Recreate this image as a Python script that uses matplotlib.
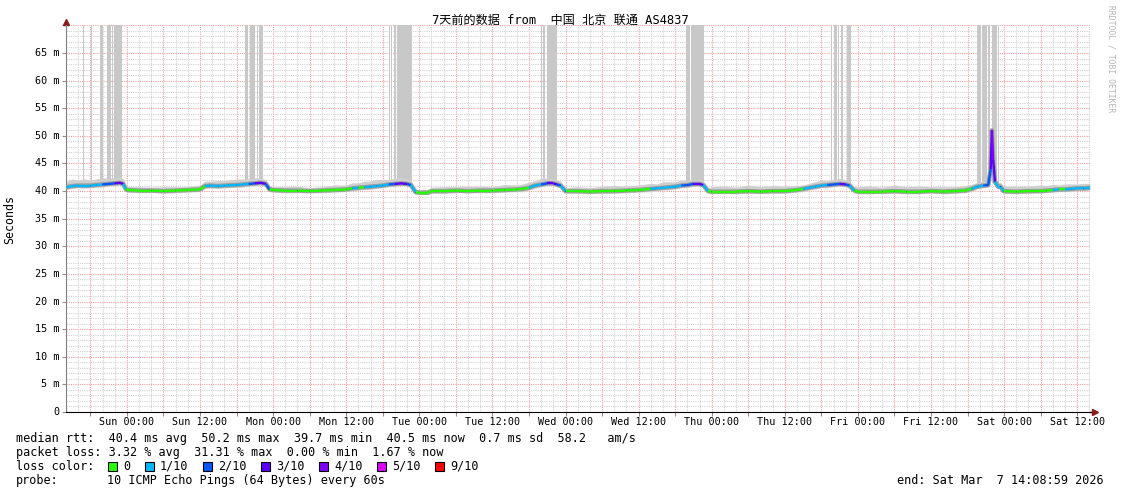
import matplotlib
matplotlib.use("Agg")
import matplotlib.pyplot as plt
import numpy as np
from matplotlib.collections import LineCollection
from matplotlib.patches import Rectangle
from matplotlib.ticker import MultipleLocator, NullFormatter

W, H = 1121, 494
MONO = ["DejaVu Sans Mono", "Noto Sans CJK SC"]

# time is in hours relative to Sun 00:00
title = "7天前的数据 from  中国 北京 联通 AS4837"

# median rtt (ms), loss class, smoke above / below median, per day
sat0_h = [-10, -9, -8, -7, -6, -5, -4, -3, -2, -1.2, -0.6, -0.2]
sat0_med = [40.7, 40.9, 41.0, 41.0, 41.0, 41.1, 41.2, 41.3, 41.4, 41.5, 41.3, 40.4]
sat0_loss = [1, 1, 1, 1, 1, 1, 2, 2, 3, 3, 1, 0]
sat0_up = [1.0, 1.3, 1.0, 1.2, 1.0, 1.1, 1.2, 1.0, 1.1, 1.0, 0.9, 0.8]
sat0_dn = [0.5, 0.4, 0.4, 0.5, 0.4, 0.4, 0.5, 0.4, 0.4, 0.4, 0.5, 0.4]

sun_h = [0, 2, 4, 6, 8, 10, 12, 12.8, 13.6, 15, 16, 18, 19, 20, 21, 22, 22.8, 23.4]
sun_med = [40.2, 40.1, 40.1, 40.0, 40.1, 40.2, 40.3, 40.9, 41.0, 40.9, 41.0, 41.1, 41.2, 41.3, 41.4, 41.5, 41.3, 40.3]
sun_loss = [0, 0, 0, 0, 0, 0, 0, 1, 1, 1, 1, 1, 1, 2, 3, 3, 2, 0]
sun_up = [0.6, 0.7, 0.6, 0.8, 0.7, 0.6, 0.8, 0.9, 0.8, 1.0, 0.9, 1.1, 1.0, 0.9, 1.0, 0.8, 0.8, 0.7]
sun_dn = [0.4, 0.4, 0.3, 0.4, 0.4, 0.4, 0.4, 0.4, 0.5, 0.4, 0.4, 0.4, 0.5, 0.4, 0.4, 0.4, 0.5, 0.4]

mon_h = [24, 26, 28, 30, 32, 34, 36, 37, 38, 39, 40, 41, 42, 43, 44, 45, 46, 46.6, 47.4]
mon_med = [40.2, 40.1, 40.1, 40.0, 40.1, 40.2, 40.3, 40.5, 40.6, 40.7, 40.8, 40.9, 41.0, 41.2, 41.3, 41.4, 41.3, 41.1, 39.8]
mon_loss = [0, 0, 0, 0, 0, 0, 0, 1, 0, 1, 1, 1, 1, 2, 3, 3, 2, 1, 0]
mon_up = [0.6, 0.7, 0.8, 0.6, 0.7, 0.9, 0.8, 1.0, 0.9, 1.1, 1.0, 1.2, 1.1, 0.9, 1.0, 1.1, 0.9, 0.8, 0.6]
mon_dn = [0.4, 0.4, 0.4, 0.3, 0.4, 0.4, 0.4, 0.5, 0.4, 0.4, 0.5, 0.4, 0.4, 0.4, 0.5, 0.4, 0.4, 0.5, 0.3]

tue_h = [48, 49.4, 50, 52, 54, 56, 58, 60, 62, 64, 65, 66, 67, 68, 69, 70, 70.6, 71.2]
tue_med = [39.7, 39.7, 40.0, 40.0, 40.1, 40.0, 40.1, 40.1, 40.2, 40.3, 40.4, 40.6, 41.0, 41.2, 41.4, 41.4, 41.2, 41.0]
tue_loss = [0, 0, 0, 0, 0, 0, 0, 0, 0, 0, 0, 1, 1, 2, 3, 3, 2, 1]
tue_up = [0.5, 0.6, 0.7, 0.8, 0.7, 0.9, 0.8, 0.7, 1.0, 0.8, 0.9, 1.0, 0.9, 1.1, 1.0, 0.9, 0.8, 0.8]
tue_dn = [0.3, 0.3, 0.4, 0.4, 0.4, 0.3, 0.4, 0.4, 0.4, 0.4, 0.5, 0.4, 0.5, 0.4, 0.4, 0.4, 0.5, 0.4]

wed_h = [72, 74, 76, 78, 80, 82, 84, 86, 87, 88, 89, 90, 91, 92, 93, 94, 94.6, 95.4]
wed_med = [40.0, 40.0, 39.9, 40.0, 40.0, 40.1, 40.2, 40.4, 40.5, 40.6, 40.7, 40.8, 41.0, 41.1, 41.3, 41.3, 41.1, 40.0]
wed_loss = [0, 0, 0, 0, 0, 0, 0, 1, 1, 1, 1, 1, 2, 2, 3, 3, 1, 0]
wed_up = [0.6, 0.8, 0.7, 0.9, 1.0, 0.8, 0.9, 1.0, 0.8, 1.1, 1.0, 0.9, 1.0, 0.9, 0.8, 0.9, 0.8, 0.6]
wed_dn = [0.4, 0.4, 0.3, 0.4, 0.4, 0.4, 0.4, 0.5, 0.4, 0.4, 0.5, 0.4, 0.4, 0.5, 0.4, 0.4, 0.5, 0.4]

thu_h = [96, 98, 100, 102, 104, 106, 108, 110, 111, 112, 113, 114, 115, 116, 117, 118, 118.6, 119.4]
thu_med = [39.9, 39.9, 39.9, 40.0, 39.9, 40.0, 40.0, 40.2, 40.4, 40.6, 40.8, 41.0, 41.1, 41.2, 41.3, 41.2, 41.0, 40.1]
thu_loss = [0, 0, 0, 0, 0, 0, 0, 0, 1, 1, 1, 1, 2, 2, 3, 2, 1, 0]
thu_up = [0.9, 1.0, 0.8, 1.1, 0.9, 1.0, 0.9, 0.8, 0.7, 0.8, 0.9, 1.0, 0.8, 0.9, 1.0, 0.9, 0.8, 0.7]
thu_dn = [0.4, 0.3, 0.4, 0.4, 0.3, 0.4, 0.4, 0.4, 0.5, 0.4, 0.4, 0.4, 0.5, 0.4, 0.4, 0.4, 0.5, 0.4]

fri_h = [120, 122, 124, 126, 128, 130, 132, 134, 136, 137.6, 138.6, 139.6, 140.6, 141.4,
         141.8, 142.0, 142.2, 142.5, 143.0, 143.4, 143.9]
fri_med = [39.9, 39.9, 39.9, 40.0, 39.9, 39.9, 40.0, 39.9, 40.0, 40.1, 40.4, 40.8, 41.0, 41.1,
           44.0, 51.0, 45.6, 41.7, 40.8, 40.8, 40.0]
fri_loss = [0, 0, 0, 0, 0, 0, 0, 0, 0, 0, 1, 1, 2, 2, 3, 4, 3, 1, 1, 1, 0]
fri_up = [0.9, 1.0, 0.8, 1.1, 0.9, 1.0, 0.8, 0.9, 0.8, 0.9, 0.8, 0.8, 0.7, 0.7,
          0.5, 0.5, 0.5, 0.8, 0.7, 0.8, 0.9]
fri_dn = [0.4, 0.4, 0.3, 0.4, 0.4, 0.4, 0.3, 0.4, 0.4, 0.4, 0.5, 0.4, 0.4, 0.4,
          0.6, 0.8, 0.6, 0.5, 0.4, 0.4, 0.4]

sat_h = [146, 148, 150, 151, 152, 153, 154, 155, 156, 157, 158.1]
sat_med = [39.9, 40.0, 40.0, 40.1, 40.2, 40.3, 40.3, 40.4, 40.5, 40.5, 40.6]
sat_loss = [0, 0, 0, 0, 1, 0, 1, 1, 1, 1, 1]
sat_up = [1.0, 0.9, 1.1, 0.9, 1.0, 0.8, 1.0, 0.9, 0.8, 0.9, 0.8]
sat_dn = [0.4, 0.4, 0.3, 0.4, 0.4, 0.4, 0.4, 0.5, 0.4, 0.4, 0.4]

# pings that went off the top of the graph (hours)
spike_start = [-7.2, -5.9, -4.43, -3.28, -2.46, -2.13, 19.38, 20.2, 21.35, 21.67,
               43.0, 43.4, 43.84, 44.4, 68.0, 68.3, 69.0, 91.8, 92.6,
               115.6, 116.1, 116.7, 117.2, 118.2, 139.6, 140.4, 141.4, 142.0, 143.0]
spike_end = [-7.05, -5.75, -3.94, -2.63, -2.31, -0.82, 19.87, 21.0, 21.5, 22.33,
             43.15, 43.55, 44.25, 46.8, 68.15, 68.6, 70.6, 92.4, 94.7,
             115.75, 116.6, 116.9, 117.6, 118.9, 140.2, 141.2, 141.7, 142.9, 143.2]

loss_labels = ["0", "1/10", "2/10", "3/10", "4/10", "5/10", "9/10"]
loss_colors = ["#26ff00", "#00b8ff", "#0059ff", "#5e00ff", "#7e00ff", "#dd00ff", "#ff0000"]

x_tick_hours = [0, 12, 24, 36, 48, 60, 72, 84, 96, 108, 120, 132, 144, 156]
x_tick_labels = ["Sun 00:00", "Sun 12:00", "Mon 00:00", "Mon 12:00", "Tue 00:00", "Tue 12:00",
                 "Wed 00:00", "Wed 12:00", "Thu 00:00", "Thu 12:00", "Fri 00:00", "Fri 12:00",
                 "Sat 00:00", "Sat 12:00"]
y_ticks = [0, 5, 10, 15, 20, 25, 30, 35, 40, 45, 50, 55, 60, 65]
y_tick_labels = ["0"] + ["%d m" % v for v in y_ticks[1:]]

stats_lines = [
    "median rtt:  40.4 ms avg  50.2 ms max  39.7 ms min  40.5 ms now  0.7 ms sd  58.2   am/s",
    "packet loss: 3.32 % avg  31.31 % max  0.00 % min  1.67 % now",
]
probe_text = "10 ICMP Echo Pings (64 Bytes) every 60s"
end_text = "end: Sat Mar  7 14:08:59 2026"

hours = np.array(sat0_h + sun_h + mon_h + tue_h + wed_h + thu_h + fri_h + sat_h)
median = np.array(sat0_med + sun_med + mon_med + tue_med + wed_med + thu_med + fri_med + sat_med)
loss = sat0_loss + sun_loss + mon_loss + tue_loss + wed_loss + thu_loss + fri_loss + sat_loss
up = np.array(sat0_up + sun_up + mon_up + tue_up + wed_up + thu_up + fri_up + sat_up)
dn = np.array(sat0_dn + sun_dn + mon_dn + tue_dn + wed_dn + thu_dn + fri_dn + sat_dn)

fig = plt.figure(figsize=(W / 100, H / 100), dpi=100)
ax = fig.add_axes([66 / W, 1 - 412 / H, (1090 - 66) / W, (412 - 25.4) / H])
ax.set_xlim(-10.0, 158.1)
ax.set_ylim(0, 70)

# grid, rrdtool style
ax.xaxis.set_major_locator(MultipleLocator(6))
ax.xaxis.set_minor_locator(MultipleLocator(2))
ax.yaxis.set_major_locator(MultipleLocator(5))
ax.yaxis.set_minor_locator(MultipleLocator(1))
ax.grid(which="minor", color="#d2d2d2", linestyle=(0, (1, 1)), linewidth=0.8, zorder=0)
ax.grid(which="major", color="#f2a0a0", linestyle=(0, (1, 1)), linewidth=0.8, zorder=0)
ax.set_axisbelow(True)
ax.xaxis.set_major_formatter(NullFormatter())
ax.yaxis.set_major_formatter(NullFormatter())
ax.tick_params(which="minor", length=0)
ax.tick_params(which="major", length=3, width=0.8, color="#909090")

for i, lab in enumerate(x_tick_labels):
    ax.text(x_tick_hours[i], -1.75, lab, ha="center", va="center", fontsize=7.3,
            family=MONO, clip_on=False)
for i, lab in enumerate(y_tick_labels):
    ax.text(-10.0 - 1.1, y_ticks[i], lab, ha="right", va="center", fontsize=7.3,
            family=MONO, clip_on=False)

for s in ["top", "right"]:
    ax.spines[s].set_visible(False)
ax.spines["left"].set_color("#808080")
ax.spines["bottom"].set_color("#000000")
ax.plot([1.0, 1.003], [0, 0], transform=ax.transAxes, color="black", lw=1, clip_on=False)
ax.plot([1.005], [0], marker=">", color="#8b1a1a", markersize=4, transform=ax.transAxes, clip_on=False)
ax.plot([0], [1.01], marker="^", color="#8b1a1a", markersize=4, transform=ax.transAxes, clip_on=False)

# off-scale pings
for s, e in zip(spike_start, spike_end):
    ax.bar(s, 70 - 41.5, width=e - s, bottom=41.5, align="edge", color="#c8c8c8",
           linewidth=0, zorder=1)

# smoke
ax.fill_between(hours, median - dn, median + up, color="#cfcfcf", linewidth=0, zorder=2)
ax.plot(hours, median, color="#9c9c9c", lw=3.2, zorder=3)

# median coloured by loss
pts = np.column_stack([hours, median])
segs = np.stack([pts[:-1], pts[1:]], axis=1)
ax.plot(hours, median, color="black", lw=0.7, zorder=4)
lc = LineCollection(segs, colors=[loss_colors[k] for k in loss[:-1]], linewidths=1.7, zorder=5)
ax.add_collection(lc)

# texts
fig.text(560.5 / W, 1 - 20 / H, title, ha="center", va="center", fontsize=8.7, family=MONO)
fig.text(10 / W, 1 - 219 / H, "Seconds", rotation=90, ha="center", va="center",
         fontsize=8.4, family=MONO)
fig.text(1111 / W, 1 - 59 / H, "RRDTOOL / TOBI OETIKER", rotation=-90, ha="center",
         va="center", fontsize=5.8, family=MONO, color="#b4b4b4")

fig.text(16 / W, 1 - 438 / H, stats_lines[0], ha="left", va="center", fontsize=8.5, family=MONO)
fig.text(16 / W, 1 - 452 / H, stats_lines[1], ha="left", va="center", fontsize=8.5, family=MONO)
fig.text(16 / W, 1 - 466 / H, "loss color:", ha="left", va="center", fontsize=8.5, family=MONO)
box_x = [108, 145, 203, 261, 319, 377, 435]
for i, lab in enumerate(loss_labels):
    fig.patches.append(Rectangle((box_x[i] / W, 1 - 471 / H), 9 / W, 9 / H,
                                 transform=fig.transFigure, facecolor=loss_colors[i],
                                 edgecolor="black", linewidth=0.8))
    fig.text((box_x[i] + 15) / W, 1 - 466 / H, lab, ha="left", va="center", fontsize=8.5, family=MONO)
fig.text(16 / W, 1 - 480 / H, "probe:", ha="left", va="center", fontsize=8.5, family=MONO)
fig.text(107 / W, 1 - 480 / H, probe_text, ha="left", va="center", fontsize=8.5, family=MONO)
fig.text(1104 / W, 1 - 480 / H, end_text, ha="right", va="center", fontsize=8.5, family=MONO)

fig.savefig("out.png", dpi=100)
